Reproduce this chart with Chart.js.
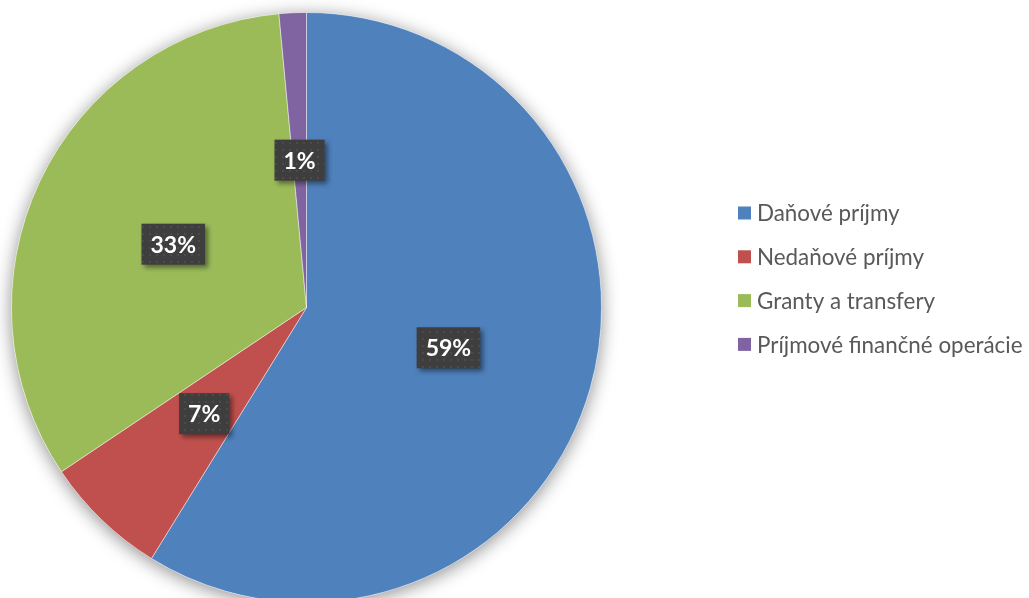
<!DOCTYPE html>
<html>
<head>
<meta charset="utf-8">
<script src="https://cdn.jsdelivr.net/npm/chart.js@4.4.0/dist/chart.umd.min.js"></script>
<style>
    html, body { margin: 0; padding: 0; background: #fff; overflow: hidden; }
    #wrap { position: relative; width: 1029px; height: 615px; }
</style>
</head>
<body>
<div id="wrap"><canvas id="pieChart"></canvas></div>
<script>
// Príjmy - podiel jednotlivých zložiek
const categories = ['Daňové príjmy', 'Nedaňové príjmy', 'Granty a transfery', 'Príjmové finančné operácie'];
const shares = [58.8, 6.8, 32.9, 1.49];
const sliceColors = ['#4F81BD', '#C0504D', '#9BBB59', '#8064A2'];

// soft shadow behind the whole pie
const pieShadow = {
    id: 'pieShadow',
    beforeDatasetsDraw(chart) {
        const arc = chart.getDatasetMeta(0).data[0];
        if (!arc) return;
        const ctx = chart.ctx;
        ctx.save();
        ctx.shadowColor = 'rgba(0,0,0,0.45)';
        ctx.shadowBlur = 18;
        ctx.shadowOffsetY = 3;
        ctx.fillStyle = '#fff';
        ctx.beginPath();
        ctx.arc(arc.x, arc.y, arc.outerRadius, 0, Math.PI * 2);
        ctx.fill();
        ctx.restore();
    }
};

function makeDotPattern(ctx) {
    const c = document.createElement('canvas');
    c.width = 7; c.height = 7;
    const p = c.getContext('2d');
    p.fillStyle = '#3e3e3e';
    p.fillRect(0, 0, 7, 7);
    p.fillStyle = '#4b4b4b';
    p.fillRect(2, 2, 2, 2);
    return ctx.createPattern(c, 'repeat');
}

// dark boxed percentage labels at half radius
const boxLabels = {
    id: 'boxLabels',
    afterDatasetsDraw(chart) {
        const ctx = chart.ctx;
        const meta = chart.getDatasetMeta(0);
        const total = shares.reduce((a, b) => a + b, 0);
        const pattern = makeDotPattern(ctx);
        ctx.save();
        ctx.font = 'bold 23px Lato, "Open Sans", sans-serif';
        meta.data.forEach((arc, i) => {
            const mid = (arc.startAngle + arc.endAngle) / 2;
            const r = arc.outerRadius * 0.5;
            const x = arc.x + Math.cos(mid) * r;
            const y = arc.y + Math.sin(mid) * r;
            const txt = Math.round(shares[i] / total * 100) + '%';
            const w = ctx.measureText(txt).width + 18;
            const h = 41;
            ctx.save();
            ctx.shadowColor = 'rgba(0,0,0,0.45)';
            ctx.shadowBlur = 5;
            ctx.shadowOffsetX = 3;
            ctx.shadowOffsetY = 3;
            ctx.fillStyle = pattern;
            ctx.fillRect(x - w / 2, y - h / 2, w, h);
            ctx.restore();
            ctx.fillStyle = '#fff';
            ctx.textAlign = 'center';
            ctx.textBaseline = 'middle';
            ctx.fillText(txt, x, y + 1);
        });
        ctx.restore();
    }
};

// legend on the right side
const sideLegend = {
    id: 'sideLegend',
    afterDraw(chart) {
        const ctx = chart.ctx;
        const x0 = 738, y0 = 213, step = 43.8, box = 13;
        ctx.save();
        // size the font so the longest entry spans as in the original (~266px)
        ctx.font = '20px Lato, "Open Sans", sans-serif';
        const longest = Math.max(...chart.data.labels.map(l => ctx.measureText(l).width));
        const size = Math.min(23, 20 * 266 / longest);
        ctx.font = size.toFixed(1) + 'px Lato, "Open Sans", sans-serif';
        ctx.textBaseline = 'middle';
        chart.data.labels.forEach((lbl, i) => {
            const y = y0 + i * step;
            ctx.fillStyle = sliceColors[i];
            ctx.fillRect(x0, y - box / 2, box, box);
            ctx.fillStyle = '#595959';
            ctx.fillText(lbl, x0 + 19, y + 1);
        });
        ctx.restore();
    }
};

new Chart(document.getElementById('pieChart'), {
    type: 'pie',
    data: {
        labels: categories,
        datasets: [{
            data: shares,
            backgroundColor: sliceColors,
            borderColor: 'rgba(255,255,255,0.45)',
            borderWidth: 1
        }]
    },
    options: {
        responsive: true,
        maintainAspectRatio: false,
        animation: false,
        layout: {
            padding: { left: 11, top: 12, right: 427, bottom: 12 }
        },
        plugins: {
            legend: { display: false },
            tooltip: { enabled: false }
        }
    },
    plugins: [pieShadow, boxLabels, sideLegend]
});
</script>
</body>
</html>
